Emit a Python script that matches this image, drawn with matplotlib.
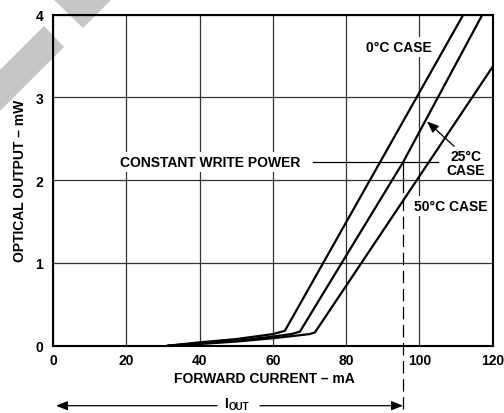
import matplotlib
matplotlib.use("Agg")
import matplotlib.pyplot as plt
from matplotlib.patches import Polygon

plt.rcParams['font.family'] = ['Liberation Sans', 'DejaVu Sans']
plt.rcParams['font.weight'] = 'bold'
plt.rcParams['lines.scale_dashes'] = False

# ---- data ----
x_0c = [31.4, 40, 50, 60, 63.3, 112.0]
y_0c = [0.0, 0.04, 0.08, 0.14, 0.18, 4.0]
x_25c = [31.4, 40, 50, 60, 65, 67.4, 95.6, 117.2]
y_25c = [0.0, 0.03, 0.06, 0.11, 0.14, 0.17, 2.22, 4.0]
x_50c = [31.4, 40, 50, 60, 70, 71.5, 120.0]
y_50c = [0.0, 0.02, 0.05, 0.09, 0.14, 0.16, 3.37]
x_ticks = [0, 20, 40, 60, 80, 100, 120]
y_ticks = [0, 1, 2, 3, 4]
write_power = 2.22
write_x_start, write_x_end = 71.0, 105.1
iout_x = 95.6

fig = plt.figure(figsize=(5.04, 4.14), dpi=100)
ax = fig.add_axes([53/504, 1-346.7/414, (492.6-53)/504, (346.7-15.7)/414])
ax.set_facecolor('none')

# watermark bands (figure pixels)
H = 414
band1 = [(50, H+3), (115, H+3), (83, H-29)]
band2 = [(44, H-27), (64, H-48), (0, H-112), (0, H-71)]
for b in (band1, band2):
    fig.patches.append(Polygon(b, closed=True, transform=None, facecolor='#c6c6c6',
                               edgecolor='none', zorder=-1))

ax.set_xlim(0, 120)
ax.set_ylim(0, 4)
ax.set_xticks(x_ticks)
ax.set_yticks(y_ticks)
ax.tick_params(length=0, labelsize=10, pad=5)
for lab in ax.get_xticklabels() + ax.get_yticklabels():
    lab.set_fontweight('bold')
ax.tick_params(axis='y', pad=7)
ax.grid(True, color='#333333', lw=0.9)
ax.set_axisbelow(True)
for s in ax.spines.values():
    s.set_linewidth(1.5)
    s.set_zorder(5)

for xs, ys in ((x_0c, y_0c), (x_25c, y_25c), (x_50c, y_50c)):
    ax.plot(xs, ys, color='black', lw=1.6, solid_joinstyle='round', zorder=3)

# constant write power line and I_OUT marker
ax.plot([write_x_start, write_x_end], [write_power, write_power], color='black', lw=0.9, zorder=3)
ax.plot([iout_x, iout_x], [write_power, 2.0], color='black', lw=0.9, zorder=3)
ax.plot([iout_x, iout_x], [2.0, -0.82], color='black', lw=0.9, ls=(0, (9, 4)),
        clip_on=False, zorder=3)

bb = dict(facecolor='white', edgecolor='none', pad=2)
ax.text(42.9, 2.22, 'CONSTANT WRITE POWER', ha='center', va='center', fontsize=10,
        fontweight='bold', bbox=bb, zorder=4)
ax.text(94.3, 3.61, '0°C CASE', ha='center', va='center', fontsize=10,
        fontweight='bold', bbox=bb, zorder=4)
ax.text(112.7, 2.21, '25°C\nCASE', ha='center', va='center', fontsize=10,
        fontweight='bold', linespacing=1.0, zorder=4)
ax.text(108.7, 1.69, '50°C CASE', ha='center', va='center', fontsize=10,
        fontweight='bold', bbox=bb, zorder=4)
ax.annotate('', xy=(102.1, 2.71), xytext=(109.5, 2.41),
            arrowprops=dict(arrowstyle='-|>,head_length=0.5,head_width=0.2',
                            color='black', lw=0.9, mutation_scale=14,
                            shrinkA=0, shrinkB=0), zorder=4)

# axis labels
fig.text(20/504, 1-181/414, 'OPTICAL OUTPUT – mW', rotation=90, ha='center', va='center',
         fontsize=10, fontweight='bold')
fig.text(264/504, 1-379/414, 'FORWARD CURRENT – mA', ha='center', va='center',
         fontsize=10, fontweight='bold')

# I_OUT double arrow
ay = H - 406.7
for x0, x1 in ((217, 56), (260, 403)):
    fig.add_artist(matplotlib.patches.FancyArrowPatch(
        (x0, ay), (x1, ay), transform=None,
        arrowstyle='-|>,head_length=0.5,head_width=0.2', mutation_scale=14,
        color='black', lw=0.9, shrinkA=0, shrinkB=0))
fig.text(224/504, (H-404)/414, 'I', ha='left', va='center', fontsize=10, fontweight='bold')
fig.text(228.5/504, (H-407.5)/414, 'OUT', ha='left', va='center', fontsize=7, fontweight='bold')

fig.savefig('out.png', dpi=100)
